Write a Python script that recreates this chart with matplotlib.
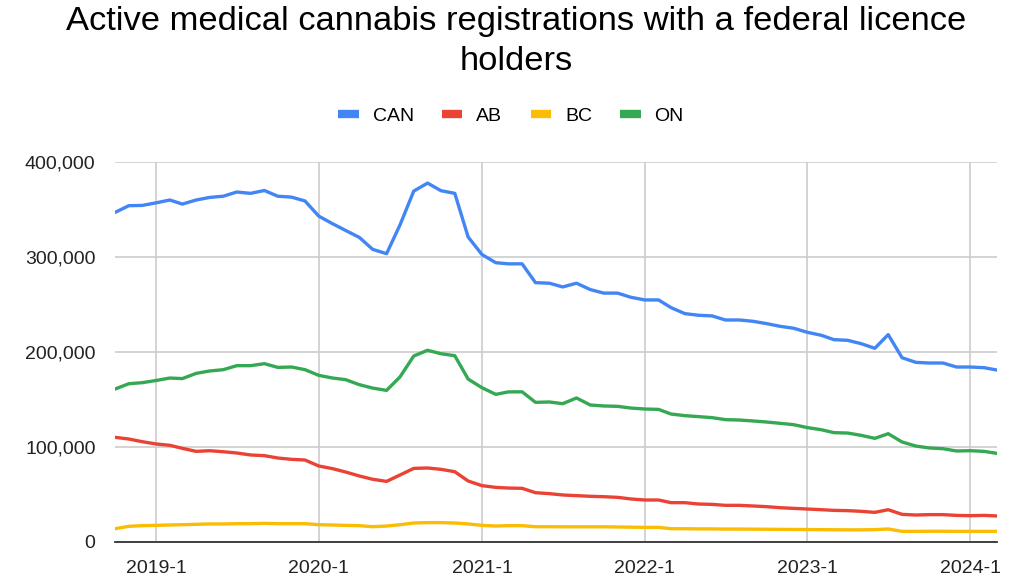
import matplotlib
matplotlib.use("Agg")
import matplotlib.pyplot as plt
from matplotlib.lines import Line2D
from matplotlib.ticker import FuncFormatter
import pandas as pd

plt.rcParams['font.family'] = ['Liberation Sans', 'DejaVu Sans']

title = "Active medical cannabis registrations with a federal licence\nholders"
series_names = ["CAN", "AB", "BC", "ON"]
start_month = "2018-10-01"
n_months = 66

can = [346900, 354000, 354300, 357000, 360000, 355700, 360000, 362700, 364000, 368400,
       367000, 370000, 364000, 363000, 359000, 343000, 335000, 328000, 320600, 308000,
       303500, 333600, 369400, 377800, 369800, 367000, 321000, 302600, 294000, 292800,
       292800, 273000, 272400, 268500, 272400, 265700, 262000, 262000, 257600, 254800,
       254800, 246700, 240400, 238700, 238000, 233700, 233700, 232300, 229900, 227000,
       225000, 220700, 217600, 213000, 212300, 208800, 203900, 218300, 194000, 189100,
       188400, 188400, 184200, 184200, 183500, 181000]
ab = [110200, 108400, 105600, 103200, 101800, 98600, 95400, 96100, 95000, 93700,
      91600, 90900, 88400, 87000, 86300, 80000, 77200, 73700, 69500, 66000,
      63800, 70500, 77500, 77900, 76500, 74000, 64200, 59300, 57500, 56800,
      56500, 51900, 50900, 49500, 48800, 48100, 47700, 47000, 45300, 44200,
      44200, 41400, 41400, 40000, 39600, 38600, 38600, 37900, 37200, 36100,
      35400, 34700, 34000, 33300, 33000, 32300, 31200, 34000, 29100, 28400,
      28800, 28800, 28000, 27700, 28000, 27400]
bc = [14000, 16500, 17200, 17500, 17900, 18200, 18600, 19000, 19000, 19300,
      19300, 19600, 19300, 19300, 19300, 18200, 17900, 17500, 17200, 16100,
      16800, 18200, 20000, 20400, 20400, 20000, 19000, 17500, 16800, 17200,
      17200, 16100, 16100, 16000, 16000, 16000, 16000, 15800, 15600, 15400,
      15400, 14000, 14000, 13800, 13800, 13600, 13600, 13500, 13400, 13300,
      13200, 13100, 13000, 12900, 12800, 12800, 13000, 13700, 11200, 11200,
      11300, 11300, 11200, 11200, 11200, 11200]
on = [161000, 166600, 167700, 170000, 172600, 172000, 177500, 180000, 181400, 185600,
      185600, 187700, 183800, 184200, 181400, 175400, 172600, 170900, 165600, 162000,
      159600, 173700, 195800, 201800, 198200, 196100, 171500, 162400, 155400, 158000,
      158100, 147000, 147400, 145600, 151600, 144200, 143200, 142800, 141000, 140000,
      139600, 134700, 133000, 132000, 130900, 128800, 128400, 127400, 126300, 124900,
      123500, 120400, 118200, 115100, 114700, 112300, 109100, 114000, 105300, 101000,
      99000, 98200, 95800, 96100, 95400, 93300]

tick_dates = ["2019-01-01", "2020-01-01", "2021-01-01", "2022-01-01", "2023-01-01", "2024-01-01"]
tick_labels = ["2019-1", "2020-1", "2021-1", "2022-1", "2023-1", "2024-1"]
y_ticks = [0, 100000, 200000, 300000, 400000]

colors = ["#4285F4", "#EA4335", "#FBBC04", "#34A853"]

months = pd.date_range(start_month, periods=n_months, freq="MS")
series = [can, ab, bc, on]

fig = plt.figure(figsize=(10.24, 5.76), dpi=100)
ax = fig.add_axes([115/1024, 1-542/576, 882/1024, 380/576])

for vals, c in zip(series, colors):
    ax.plot(months, vals, color=c, lw=2.4, solid_joinstyle='round', solid_capstyle='round', zorder=3)

ax.set_xlim(months[0], months[-1])
ax.set_ylim(0, 400000)
ax.set_yticks(y_ticks)
ax.yaxis.set_major_formatter(FuncFormatter(lambda v, p: f"{int(v):,}"))
ax.set_xticks(pd.to_datetime(tick_dates))
ax.set_xticklabels(tick_labels)
ax.grid(True, color="#cccccc", lw=1.2, zorder=0)
ax.tick_params(axis='both', length=0, labelsize=14, colors="#222222")
ax.tick_params(axis='x', pad=13)
ax.tick_params(axis='y', pad=14)
for s in ["top", "right", "left"]:
    ax.spines[s].set_visible(False)
ax.spines["bottom"].set_color("#333333")
ax.spines["bottom"].set_linewidth(1.3)
ax.spines["bottom"].set_zorder(4)

fig.text(516/1024, 1-6/576, title, ha='center', va='top', fontsize=24.8,
         linespacing=1.38, color="#000000")

handles = [Line2D([0], [0], color=c, lw=6, solid_capstyle='butt') for c in colors]
fig.legend(handles, series_names, loc='center', bbox_to_anchor=(511/1024, 1-116/576),
           ncol=4, frameon=False, fontsize=14, handlelength=1.05, handletextpad=0.72,
           columnspacing=1.45)

fig.savefig("out.png", dpi=100)
